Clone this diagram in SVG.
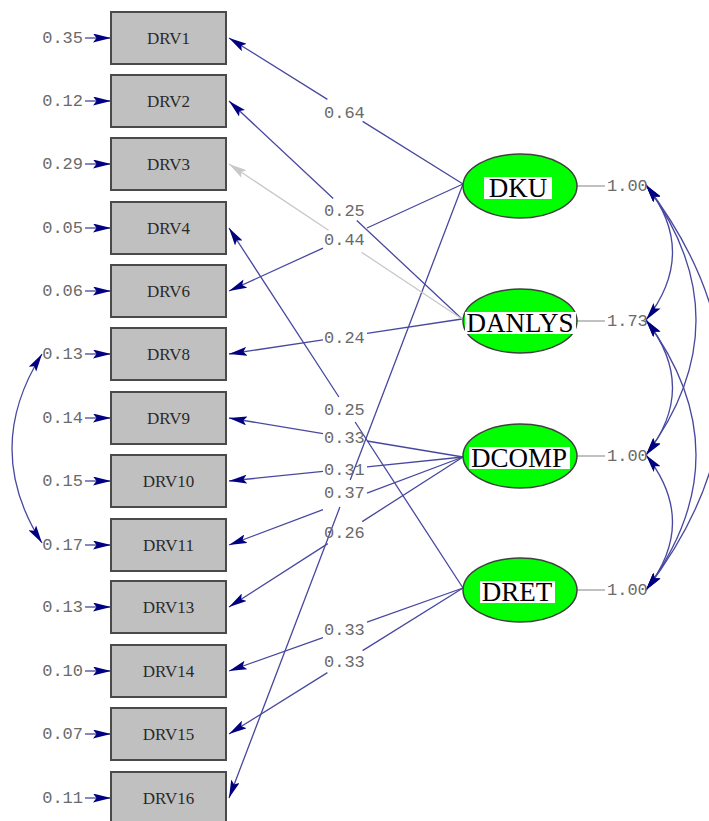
<svg xmlns="http://www.w3.org/2000/svg" width="709" height="821" viewBox="0 0 709 821">
<defs>
<marker id="ah" markerUnits="userSpaceOnUse" viewBox="0 0 18 9" refX="18" refY="4.5" markerWidth="18" markerHeight="9" orient="auto-start-reverse">
<path d="M0,0 L18,4.5 L0,9 L3.5,4.5 z" fill="#000080"/>
</marker>
<marker id="ahg" markerUnits="userSpaceOnUse" viewBox="0 0 18 9" refX="18" refY="4.5" markerWidth="18" markerHeight="9" orient="auto">
<path d="M0,0 L18,4.5 L0,9 L3.5,4.5 z" fill="#c8c8c8"/>
</marker>
</defs>
<style>
.box{fill:#c0c0c0;stroke:#4a4a4a;stroke-width:2}
.bt{font-family:"Liberation Serif",serif;font-size:17px;fill:#2a2a2a;text-anchor:middle}
.num{font-family:"Liberation Mono",monospace;font-size:17px;fill:#6a6a6a}
.ell{fill:#00ff00;stroke:#404040;stroke-width:1.5}
.et{font-family:"Liberation Serif",serif;font-size:27px;fill:#000;text-anchor:middle}
.ln{fill:none;stroke:#4848a0;stroke-width:1.3}
.gl{fill:none;stroke:#c8c8c8;stroke-width:1.3}
.vl{stroke:#a0a0a0;stroke-width:1.3}
</style>
<rect width="709" height="821" fill="#fff"/>

<g id="connectors">
<g class="ln" marker-end="url(#ah)">
<path d="M85,38 H111"/><path d="M85,101 H111"/><path d="M85,164 H111"/><path d="M85,228 H111"/>
<path d="M85,291 H111"/><path d="M85,354 H111"/><path d="M85,418 H111"/><path d="M85,481 H111"/>
<path d="M85,545 H111"/><path d="M85,607 H111"/><path d="M85,671 H111"/><path d="M85,734 H111"/>
<path d="M85,798 H111"/>
</g>
<g class="ln" marker-end="url(#ah)">
<path d="M463,184 L362.6,121.4 M327.4,99.4 L229,38"/>
<path d="M463,184 L367,228 M323,248.1 L229,291"/>
<path d="M462,319 L356.8,220.5 M333.2,198.5 L229,101"/>
<path d="M462,319 L367,333.3 M323,339.9 L229,354"/>
<path d="M463,457 L367,441 M323,433.7 L229,418"/>
<path d="M463,457 L367,466.9 M323,471.4 L229,481"/>
<path d="M463,457 L367,493.1 M323,509.7 L229,545"/>
<path d="M463,457 L362.2,521.6 M327.8,543.6 L229,607"/>
<path d="M463,588 L355.1,422 M338.9,397 L229,228"/>
<path d="M463,588 L367,622.1 M323,637.7 L229,671"/>
<path d="M463,588 L362.6,650.6 M327.4,672.6 L229,734"/>
<path d="M463,184 L350.2,480 M339.9,507 L229,798"/>
</g>
<path class="gl" marker-end="url(#ahg)" d="M462,319 L361.5,252.2 M328.5,230.2 L229,164"/>
<path class="ln" marker-start="url(#ah)" marker-end="url(#ah)" d="M42,354 Q-18,449 42,543"/>
<g class="ln" marker-start="url(#ah)" marker-end="url(#ah)">
<path d="M646,185 Q699,252 646,320"/>
<path d="M646,185 Q746,320 646,455"/>
<path d="M646,185 Q800,388 646,590"/>
<path d="M646,320 Q699,388 646,455"/>
<path d="M646,320 Q746,455 646,590"/>
<path d="M646,455 Q699,522 646,590"/>
</g>
<line class="vl" x1="577" y1="186" x2="605" y2="186"/>
<line class="vl" x1="577" y1="321" x2="605" y2="321"/>
<line class="vl" x1="577" y1="456" x2="605" y2="456"/>
<line class="vl" x1="577" y1="590" x2="605" y2="590"/>
</g>

<g id="labels">
<text class="num" x="324" y="118">0.64</text>
<text class="num" x="324" y="216">0.25</text>
<text class="num" x="324" y="245">0.44</text>
<text class="num" x="324" y="343">0.24</text>
<text class="num" x="324" y="415">0.25</text>
<text class="num" x="324" y="443">0.33</text>
<text class="num" x="324" y="475">0.31</text>
<text class="num" x="324" y="498">0.37</text>
<text class="num" x="324" y="538">0.26</text>
<text class="num" x="324" y="635">0.33</text>
<text class="num" x="324" y="667">0.33</text>
<text class="num" x="607" y="191">1.00</text>
<text class="num" x="607" y="326">1.73</text>
<text class="num" x="607" y="461">1.00</text>
<text class="num" x="607" y="595">1.00</text>
</g>

<g id="DRV1"><rect class="box" x="111" y="12" width="115" height="52"/><text class="bt" x="168.5" y="44">DRV1</text><text class="num" x="83" y="43" text-anchor="end">0.35</text></g>
<g id="DRV2"><rect class="box" x="111" y="75" width="115" height="52"/><text class="bt" x="168.5" y="107">DRV2</text><text class="num" x="83" y="106" text-anchor="end">0.12</text></g>
<g id="DRV3"><rect class="box" x="111" y="138" width="115" height="52"/><text class="bt" x="168.5" y="170">DRV3</text><text class="num" x="83" y="169" text-anchor="end">0.29</text></g>
<g id="DRV4"><rect class="box" x="111" y="202" width="115" height="52"/><text class="bt" x="168.5" y="234">DRV4</text><text class="num" x="83" y="233" text-anchor="end">0.05</text></g>
<g id="DRV6"><rect class="box" x="111" y="265" width="115" height="52"/><text class="bt" x="168.5" y="297">DRV6</text><text class="num" x="83" y="296" text-anchor="end">0.06</text></g>
<g id="DRV8"><rect class="box" x="111" y="328" width="115" height="52"/><text class="bt" x="168.5" y="360">DRV8</text><text class="num" x="83" y="359" text-anchor="end">0.13</text></g>
<g id="DRV9"><rect class="box" x="111" y="392" width="115" height="52"/><text class="bt" x="168.5" y="424">DRV9</text><text class="num" x="83" y="423" text-anchor="end">0.14</text></g>
<g id="DRV10"><rect class="box" x="111" y="455" width="115" height="52"/><text class="bt" x="168.5" y="487">DRV10</text><text class="num" x="83" y="486" text-anchor="end">0.15</text></g>
<g id="DRV11"><rect class="box" x="111" y="519" width="115" height="52"/><text class="bt" x="168.5" y="551">DRV11</text><text class="num" x="83" y="550" text-anchor="end">0.17</text></g>
<g id="DRV13"><rect class="box" x="111" y="581" width="115" height="52"/><text class="bt" x="168.5" y="613">DRV13</text><text class="num" x="83" y="612" text-anchor="end">0.13</text></g>
<g id="DRV14"><rect class="box" x="111" y="645" width="115" height="52"/><text class="bt" x="168.5" y="677">DRV14</text><text class="num" x="83" y="676" text-anchor="end">0.10</text></g>
<g id="DRV15"><rect class="box" x="111" y="708" width="115" height="52"/><text class="bt" x="168.5" y="740">DRV15</text><text class="num" x="83" y="739" text-anchor="end">0.07</text></g>
<g id="DRV16"><rect class="box" x="111" y="772" width="115" height="52"/><text class="bt" x="168.5" y="804">DRV16</text><text class="num" x="83" y="803" text-anchor="end">0.11</text></g>

<g id="DKU"><ellipse class="ell" cx="520" cy="186" rx="57" ry="32"/><rect x="484" y="177" width="68" height="22" fill="#fff"/><text class="et" x="518" y="197">DKU</text></g>
<g id="DANLYS"><ellipse class="ell" cx="520" cy="321" rx="57" ry="32"/><rect x="465" y="312" width="111" height="22" fill="#fff"/><text class="et" x="520" y="332">DANLYS</text></g>
<g id="DCOMP"><ellipse class="ell" cx="520" cy="456" rx="57" ry="32"/><rect x="469" y="447" width="101" height="22" fill="#fff"/><text class="et" x="519" y="467">DCOMP</text></g>
<g id="DRET"><ellipse class="ell" cx="520" cy="590" rx="57" ry="32"/><rect x="480" y="581" width="75" height="22" fill="#fff"/><text class="et" x="517" y="601">DRET</text></g>
</svg>
